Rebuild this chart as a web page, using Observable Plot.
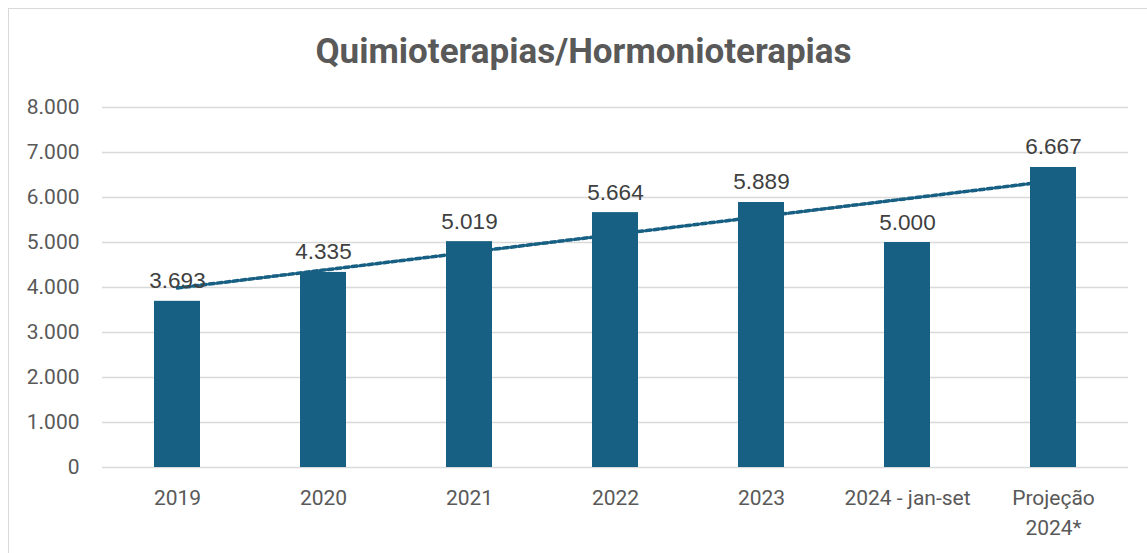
<!DOCTYPE html>
<html>
<head>
<meta charset="utf-8">
<script src="https://cdn.jsdelivr.net/npm/d3@7"></script>
<script src="https://cdn.jsdelivr.net/npm/@observablehq/plot@0.6"></script>
<style>
  html, body { margin: 0; padding: 0; background: #fff; }
  #wrap { position: relative; width: 1147px; height: 553px; overflow: hidden; }
  #frame { position: absolute; left: 8px; top: 8px; width: 1200px; height: 600px;
           border-left: 1.5px solid #d9d9d9; border-top: 1.5px solid #d9d9d9; }
  #title { position: absolute; left: 20px; width: 1127px; top: 31px; text-align: center;
           font-family: "Liberation Sans Narrow", "Roboto", sans-serif; font-weight: bold;
           font-size: 35px; color: #595959; }
  #chart { position: absolute; left: 0; top: 0; }
</style>
</head>
<body>
<div id="wrap">
  <div id="frame"></div>
  <div id="chart"></div>
  <div id="title">Quimioterapias/Hormonioterapias</div>
</div>
<script>
const categories = ["2019", "2020", "2021", "2022", "2023", "2024 - jan-set", "Projeção 2024*"];
const values = [3693, 4335, 5019, 5664, 5889, 5000, 6667];
const yTicks = [0, 1000, 2000, 3000, 4000, 5000, 6000, 7000, 8000];

const data = categories.map((c, i) => ({category: c, value: values[i], i}));

// Linear trend line (least squares over category index), like the spreadsheet trendline
const mx = d3.mean(data, d => d.i);
const my = d3.mean(values);
const slope = d3.sum(data, d => (d.i - mx) * (d.value - my)) / d3.sum(data, d => (d.i - mx) ** 2);
const intercept = my - slope * mx;
const trend = data.map(d => ({category: d.category, value: intercept + slope * d.i}));

const loc = d3.formatLocale({decimal: ",", thousands: ".", grouping: [3], currency: ["", ""]});
const fmt = loc.format(",d");

const color = "#176083";

const chart = Plot.plot({
  width: 1147,
  height: 553,
  marginLeft: 102,
  marginRight: 19,
  marginTop: 107,
  marginBottom: 86,
  style: {fontFamily: "Roboto, sans-serif", background: "transparent", overflow: "visible"},
  x: {domain: categories, padding: 0},
  y: {domain: [0, 8000]},
  marks: [
    Plot.gridY(yTicks, {stroke: "#d9d9d9", strokeOpacity: 1, strokeWidth: 1.5}),
    Plot.axisY(yTicks, {tickSize: 0, tickPadding: 23, tickFormat: fmt, fontSize: 21, fill: "#595959", label: null}),
    Plot.axisX({tickSize: 0, tickPadding: 16, fontSize: 21, fill: "#595959", label: null, lineHeight: 1.43,
      tickFormat: d => d === "Projeção 2024*" ? "Projeção\n2024*" : d}),
    Plot.line(trend, {x: "category", y: "value", stroke: color, strokeWidth: 3.5, strokeDasharray: "5,3"}),
    Plot.barY(data, {x: "category", y: "value", fill: color, insetLeft: 50, insetRight: 50}),
    Plot.text(data, {x: "category", y: "value", text: d => fmt(d.value), dy: -13, lineAnchor: "bottom",
      fontSize: 22.5, fill: "#404040", fontFamily: "Liberation Sans, Arial, sans-serif"})
  ]
});
document.getElementById("chart").appendChild(chart);
</script>
</body>
</html>
